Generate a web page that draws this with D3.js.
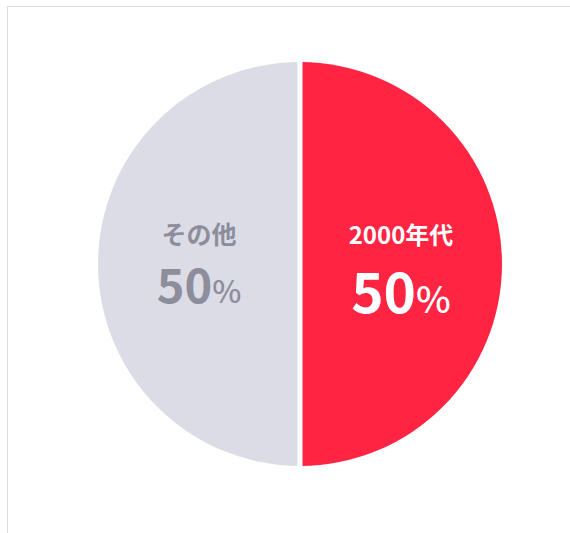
<!DOCTYPE html>
<html>
<head>
<meta charset="utf-8">
<script src="https://cdn.jsdelivr.net/npm/d3@7/dist/d3.min.js"></script>
<style>
  html, body { margin: 0; padding: 0; background: #fff; }
  svg { display: block; }
  text { font-family: "Noto Sans CJK JP", "Noto Sans", sans-serif; font-weight: 700; }
</style>
</head>
<body>
<script>
// chart data
const categories = ['2000年代', 'その他'];
const values = [50, 50];
const colors = ['#ff2442', '#dcdce6'];
const labelColors = ['#ffffff', '#8d8d9b'];

const W = 570, H = 533;
const cx = 300, cy = 264, R = 202;

const svg = d3.select('body').append('svg')
  .attr('width', W)
  .attr('height', H);

// frame border (top + left edges)
svg.append('rect')
  .attr('x', 7.5).attr('y', 6.5)
  .attr('width', W).attr('height', H)
  .attr('fill', 'none')
  .attr('stroke', '#dddddd')
  .attr('stroke-width', 1);

const pie = d3.pie().sort(null).value(d => d.v);
const arcs = pie(categories.map((c, i) => ({ c, v: values[i], i })));

const arc = d3.arc().innerRadius(0).outerRadius(R);

const g = svg.append('g').attr('transform', `translate(${cx},${cy})`);

g.selectAll('path.slice')
  .data(arcs)
  .join('path')
  .attr('class', 'slice')
  .attr('d', arc)
  .attr('fill', d => colors[d.data.i]);

// white separators along each slice boundary
g.selectAll('line.sep')
  .data(arcs)
  .join('line')
  .attr('class', 'sep')
  .attr('x1', 0).attr('y1', 0)
  .attr('x2', d => Math.sin(d.startAngle) * (R + 1))
  .attr('y2', d => -Math.cos(d.startAngle) * (R + 1))
  .attr('stroke', '#fff')
  .attr('stroke-width', 5);

// labels at half radius
const labelArc = d3.arc().innerRadius(R * 0.5).outerRadius(R * 0.5);
const sizes = [
  { name: 24, num: 55, pct: 37, nameY: -20, numY: 49 },
  { name: 25, num: 47, pct: 31, nameY: -20, numY: 39 }
];

const lg = g.selectAll('g.label')
  .data(arcs)
  .join('g')
  .attr('class', 'label')
  .attr('transform', d => {
    const [x] = labelArc.centroid(d);
    return `translate(${x},0)`;
  });

lg.append('text')
  .attr('text-anchor', 'middle')
  .attr('y', d => sizes[d.data.i].nameY)
  .attr('fill', d => labelColors[d.data.i])
  .style('font-size', d => sizes[d.data.i].name + 'px')
  .text(d => d.data.c);

const num = lg.append('text')
  .attr('text-anchor', 'middle')
  .attr('y', d => sizes[d.data.i].numY)
  .attr('fill', d => labelColors[d.data.i]);

num.append('tspan')
  .style('font-size', d => sizes[d.data.i].num + 'px')
  .text(d => d.data.v);
num.append('tspan')
  .style('font-size', d => sizes[d.data.i].pct + 'px')
  .style('font-weight', 500)
  .text('%');
</script>
</body>
</html>
